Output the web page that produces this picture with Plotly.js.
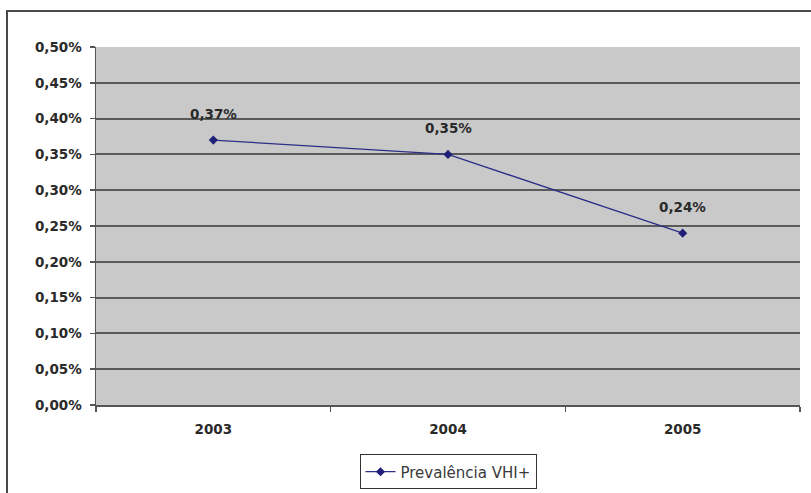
<!DOCTYPE html>
<html>
<head>
<meta charset="utf-8">
<script src="https://cdn.plot.ly/plotly-3.0.1.min.js"></script>
<style>
  html, body { margin: 0; padding: 0; background: #ffffff; overflow: hidden; }
  #frame { position: absolute; left: 6px; top: 10px; width: 900px; height: 600px; border: 2px solid #4a4a4a; }
  #chart { position: absolute; left: 0; top: 0; width: 811px; height: 493px; }
</style>
</head>
<body>
<div id="frame"></div>
<div id="chart"></div>
<script>
var years = ['2003', '2004', '2005'];
var prevalence = [0.0037, 0.0035, 0.0024];
var labels = ['0,37%', '0,35%', '0,24%'];
var seriesName = 'Prevalência VHI+';

var boldFont = { family: 'DejaVu Sans, Verdana, sans-serif', size: 13.5, color: '#2a2a2a', weight: 'bold' };

var trace = {
  x: years,
  y: prevalence,
  type: 'scatter',
  mode: 'lines+markers',
  name: seriesName,
  line: { color: '#2e2e8a', width: 1.3 },
  marker: { symbol: 'diamond', size: 7, color: '#1f1f7a' },
  showlegend: true,
  hoverinfo: 'skip'
};

var annotations = years.map(function (yr, i) {
  return {
    x: i, y: prevalence[i], xref: 'x', yref: 'y',
    text: labels[i], showarrow: false, yshift: 26,
    xanchor: 'center', yanchor: 'middle',
    font: boldFont
  };
});

var layout = {
  width: 811, height: 493,
  margin: { l: 96, r: 11, t: 47, b: 88, autoexpand: false },
  paper_bgcolor: 'rgba(0,0,0,0)',
  plot_bgcolor: '#c9c9c9',
  separators: ', ',
  font: { family: 'DejaVu Sans, Verdana, sans-serif', size: 12, color: '#333333' },
  xaxis: {
    type: 'category',
    range: [-0.5, 2.5],
    showgrid: false,
    tickson: 'boundaries',
    ticks: 'outside', ticklen: 5, tickwidth: 1.5, tickcolor: '#555555',
    showline: true, linecolor: '#555555', linewidth: 2,
    ticklabelstandoff: 11,
    tickfont: boldFont,
    zeroline: false, fixedrange: true
  },
  yaxis: {
    range: [0, 0.005],
    dtick: 0.0005,
    tickformat: '.2%',
    showgrid: true, gridcolor: '#5a5a5a', gridwidth: 2,
    ticks: 'outside', ticklen: 5, tickwidth: 1.5, tickcolor: '#555555',
    showline: true, linecolor: '#555555', linewidth: 1.5,
    ticklabelstandoff: 5,
    tickfont: boldFont,
    zeroline: false, fixedrange: true
  },
  showlegend: true,
  legend: {
    orientation: 'h',
    x: 0.5, xanchor: 'center',
    y: -0.187, yanchor: 'middle',
    bgcolor: '#ffffff',
    bordercolor: '#333333', borderwidth: 1,
    font: { family: 'DejaVu Sans, Verdana, sans-serif', size: 15, color: '#3a3a3a' },
    itemwidth: 30
  },
  annotations: annotations
};

Plotly.newPlot('chart', [trace], layout, { displayModeBar: false, staticPlot: true });
</script>
</body>
</html>
